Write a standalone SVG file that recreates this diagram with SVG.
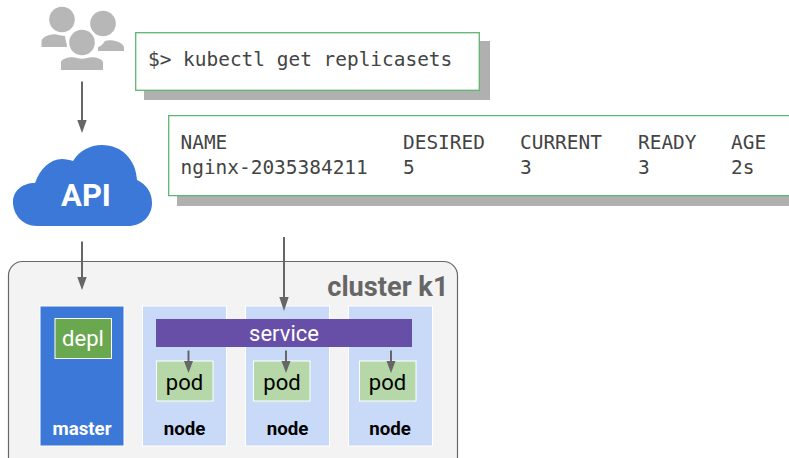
<svg xmlns="http://www.w3.org/2000/svg" width="789" height="458" viewBox="0 0 789 458">
<style>
text{font-family:"Roboto","Liberation Sans",sans-serif}
.mono{font-family:"DejaVu Sans Mono","Liberation Mono",monospace;font-size:19.45px;fill:#444}
.term{fill:#fff;stroke:#5fb56f;stroke-width:1.3}
.shadow{fill:#b0b0b0}
.user{fill:#b7b7b7}
.node{fill:#c9daf8;stroke:#fff;stroke-width:1}
.pod{fill:#b6d7a8;stroke:#fff;stroke-width:1}
.lbl{font-size:18.7px;font-weight:700;text-anchor:middle;fill:#000}
.big{font-size:22px;text-anchor:middle}
.conn{stroke:#666;stroke-width:2;fill:none}
.head{fill:#666}
</style>
<g id="users">
<circle class="user" cx="62" cy="19.500" r="12.800"/>
<circle class="user" cx="103" cy="23.500" r="12.800"/>
<path class="user" d="M41.500 47V41.500C41.500 37 51 33.500 56 34.500C60 35.500 62 35.500 65 36C65 40 67 44 69 47Z"/>
<path class="user" d="M98 51H124V47C122 41 110 39 105 41C103 44 100 47 98 47Z"/>
<circle cx="82" cy="42.500" r="15.500" fill="#fff"/>
<circle class="user" cx="82" cy="42.500" r="12.800"/>
<path class="user" d="M61 70V62C62 58 72 56 77 58C80 59 84 59 87 58C92 56 102 58 103 62V70Z"/>
</g>
<g id="cmd">
<rect class="shadow" x="144" y="41" width="346" height="59"/>
<rect class="term" x="135.700" y="32.700" width="343.600" height="57.600"/>
<text class="mono" x="148" y="66" xml:space="preserve">$&gt; kubectl get replicasets</text>
</g>
<g id="output">
<rect class="shadow" x="177" y="125" width="612" height="81"/>
<path class="term" d="M789 115.700H168.700V195.700H789"/>
<text class="mono" x="180.500" y="149">NAME</text>
<text class="mono" x="403" y="149">DESIRED</text>
<text class="mono" x="520" y="149">CURRENT</text>
<text class="mono" x="638" y="149">READY</text>
<text class="mono" x="731" y="149">AGE</text>
<text class="mono" x="180.500" y="174">nginx-2035384211</text>
<text class="mono" x="403" y="174">5</text>
<text class="mono" x="520" y="174">3</text>
<text class="mono" x="638" y="174">3</text>
<text class="mono" x="731" y="174">2s</text>
</g>
<g id="api">
<path fill="#3c78d8" d="M37 226C22 226 13 214 13 202C13 191 22 183 35 183C40 169 50 159 62 159C66 159 70 160 73 161C79 151 90 145 102 145C122 145 136 160 137 180C146 184 152 192 152 203C152 216 142 226 128 226Z"/>
<text x="86" y="206" font-size="31" font-weight="700" text-anchor="middle" fill="#fff">API</text>
</g>
<g id="cluster">
<rect x="8.500" y="261.500" width="449" height="210" rx="14" fill="#f3f3f3" stroke="#666" stroke-width="1.200"/>
<text x="448.500" y="296" font-size="27.200" font-weight="700" text-anchor="end" fill="#666">cluster k1</text>
</g>
<g id="master">
<rect x="40" y="306" width="84" height="140" fill="#3c78d8" stroke="#fff" stroke-width="1"/>
<text class="lbl" x="82" y="435" style="fill:#fff">master</text>
</g>
<g id="depl">
<rect x="55" y="318.500" width="56.500" height="40" fill="#6aa84f" stroke="#fff" stroke-width="1"/>
<text class="big" x="83" y="346" fill="#fff">depl</text>
</g>
<g id="node1"><rect class="node" x="142.500" y="306" width="84" height="140"/><text class="lbl" x="184.500" y="435">node</text></g>
<g id="node2"><rect class="node" x="245.500" y="306" width="84" height="140"/><text class="lbl" x="287.500" y="435">node</text></g>
<g id="node3"><rect class="node" x="348.500" y="306" width="84" height="140"/><text class="lbl" x="390" y="435">node</text></g>
<g id="service">
<rect x="156" y="319" width="256" height="28" fill="#674ea7"/>
<text class="big" x="284" y="341" fill="#fff">service</text>
</g>
<g id="pod1"><rect class="pod" x="156.500" y="361" width="56.500" height="40"/><text class="big" x="184.500" y="390">pod</text></g>
<g id="pod2"><rect class="pod" x="253.500" y="361" width="56.500" height="40"/><text class="big" x="282" y="390">pod</text></g>
<g id="pod3"><rect class="pod" x="359.500" y="361" width="56.500" height="40"/><text class="big" x="387.500" y="390">pod</text></g>
<g id="connectors">
<path class="conn" d="M82 81.500V122"/><path class="head" d="M77.300 120H86.700L82 133Z"/>
<path class="conn" d="M82 241.500V279"/><path class="head" d="M77.300 277H86.700L82 290Z"/>
<path class="conn" d="M284 237V299"/><path class="head" d="M279.300 297H288.700L284 311Z"/>
<path class="conn" d="M188.500 350.500V364"/><path class="head" d="M184 361H193L188.500 373Z"/>
<path class="conn" d="M286 350.500V364"/><path class="head" d="M281.500 361H290.500L286 373Z"/>
<path class="conn" d="M391 350.500V364"/><path class="head" d="M386.500 361H395.500L391 373Z"/>
</g>
</svg>
